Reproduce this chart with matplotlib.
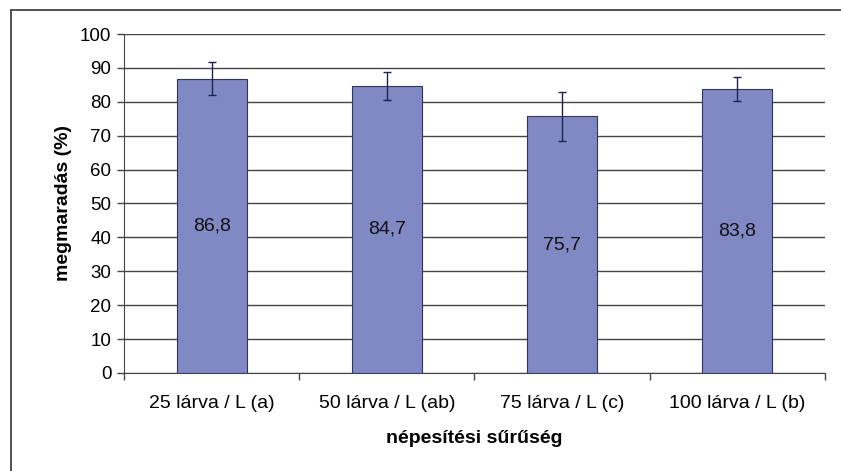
import matplotlib.pyplot as plt
from matplotlib.patches import Rectangle
import numpy as np

plt.rcParams['font.family'] = ['Liberation Sans', 'DejaVu Sans']

categories = ['25 lárva / L (a)', '50 lárva / L (ab)', '75 lárva / L (c)', '100 lárva / L (b)']
survival = [86.8, 84.7, 75.7, 83.8]
errors = [4.8, 4.2, 7.2, 3.6]
value_labels = ['86,8', '84,7', '75,7', '83,8']

fig = plt.figure(figsize=(8.41, 4.71), dpi=100)
ax = fig.add_axes([0.1474, 0.2081, 0.9810 - 0.1474, 0.9278 - 0.2081])

# outer frame around the chart (right and bottom run off the image)
fig.patches.append(Rectangle((11 / 841, -0.2), 1.0, 1.2 - 9.5 / 471,
                             transform=fig.transFigure, fill=False,
                             edgecolor='#505050', linewidth=1.4, zorder=0))

x = np.arange(len(categories))
ax.bar(x, survival, width=0.4, color='#8189C5', edgecolor='#2f3266',
       linewidth=0.8, zorder=2)
ax.errorbar(x, survival, yerr=errors, fmt='none', ecolor='#1f2152',
            elinewidth=1.0, capsize=3, capthick=1.0, zorder=3)

for xi, v, lab in zip(x, survival, value_labels):
    ax.text(xi, v / 2, lab, ha='center', va='center', fontsize=14, color='#111111', zorder=4)

ax.set_xlim(-0.5, len(categories) - 0.5)
ax.set_ylim(0, 100)
ax.set_yticks(range(0, 101, 10))
ax.yaxis.grid(True, color='#444444', linewidth=1.0, zorder=1)
ax.set_axisbelow(True)

# category ticks sit between bars
ax.set_xticks(x)
ax.set_xticklabels(categories, fontsize=14)
ax.tick_params(axis='x', which='major', length=0, pad=16)
ax.set_xticks(np.arange(-0.5, len(categories), 1.0), minor=True)
ax.tick_params(axis='x', which='minor', length=5, color='#444444', width=1.0)
ax.tick_params(axis='y', length=5, color='#444444', width=1.0, labelsize=13.5, pad=4)

for side in ['top', 'right']:
    ax.spines[side].set_visible(False)
ax.spines['left'].set_color('#444444')
ax.spines['bottom'].set_color('#444444')

ax.set_ylabel('megmaradás (%)', fontsize=14, fontweight='bold', labelpad=6)
ax.set_xlabel('népesítési sűrűség', fontsize=14, fontweight='bold', labelpad=13)

fig.savefig('out.png', dpi=100)
